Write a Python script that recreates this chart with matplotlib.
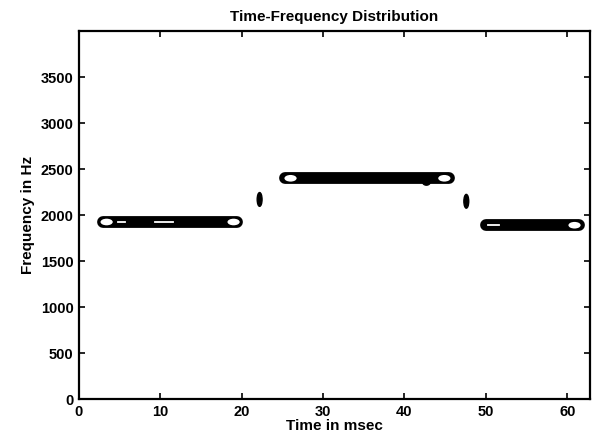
import matplotlib.pyplot as plt
from matplotlib.patches import Ellipse

# tone segments: start / end time (ms) and frequency (Hz)
seg_start = [2.9, 25.3, 50.0]
seg_end = [19.4, 45.5, 61.5]
seg_freq = [1925, 2400, 1890]

# hollow loops at the segment ends (time, freq)
loop_t = [3.4, 19.0, 26.0, 44.9, 60.9]
loop_f = [1925, 1925, 2400, 2400, 1890]

# thin white streaks inside the bars (start, end, freq)
streak_start = [4.8, 9.3, 50.3]
streak_end = [5.6, 11.6, 51.6]
streak_freq = [1925, 1925, 1890]

# isolated transition blobs (time, freq)
blob_t = [22.2, 47.6]
blob_f = [2170, 2150]

# small bump under the middle segment
bump_t = [42.7]
bump_f = [2355]

plt.rcParams['font.family'] = ['Liberation Sans', 'DejaVu Sans']
plt.rcParams['font.weight'] = 'bold'

fig = plt.figure(figsize=(5.92, 4.47), dpi=100)
ax = fig.add_axes([0.1334, 0.107, 0.8632, 0.8236])

for t0, t1, f in zip(seg_start, seg_end, seg_freq):
    ax.plot([t0, t1], [f, f], color='black', lw=8.5, solid_capstyle='round')

for t, f in zip(loop_t, loop_f):
    ax.add_patch(Ellipse((t, f), 1.5, 72, facecolor='white', edgecolor='none', zorder=3))

for t0, t1, f in zip(streak_start, streak_end, streak_freq):
    ax.plot([t0, t1], [f, f], color='white', lw=1.3, zorder=4)

for t, f in zip(blob_t, blob_f):
    ax.add_patch(Ellipse((t, f), 0.6, 150, facecolor='black', edgecolor='black', zorder=3))

for t, f in zip(bump_t, bump_f):
    ax.add_patch(Ellipse((t, f), 0.9, 60, facecolor='black', edgecolor='black', zorder=3))

ax.set_xlim(0, 62.8)
ax.set_ylim(0, 4000)
ax.set_xticks([0, 10, 20, 30, 40, 50, 60])
ax.set_yticks([0, 500, 1000, 1500, 2000, 2500, 3000, 3500])
ax.tick_params(direction='in', top=True, right=True, length=4, width=1.2,
               labelsize=10.5, pad=4)
for s in ax.spines.values():
    s.set_linewidth(1.6)

ax.set_title('Time-Frequency Distribution', fontsize=11, fontweight='bold', pad=7)
ax.set_xlabel('Time in msec', fontsize=11, fontweight='bold', labelpad=0)
ax.set_ylabel('Frequency in Hz', fontsize=11, fontweight='bold', labelpad=4)

fig.savefig('out.png', dpi=100)
